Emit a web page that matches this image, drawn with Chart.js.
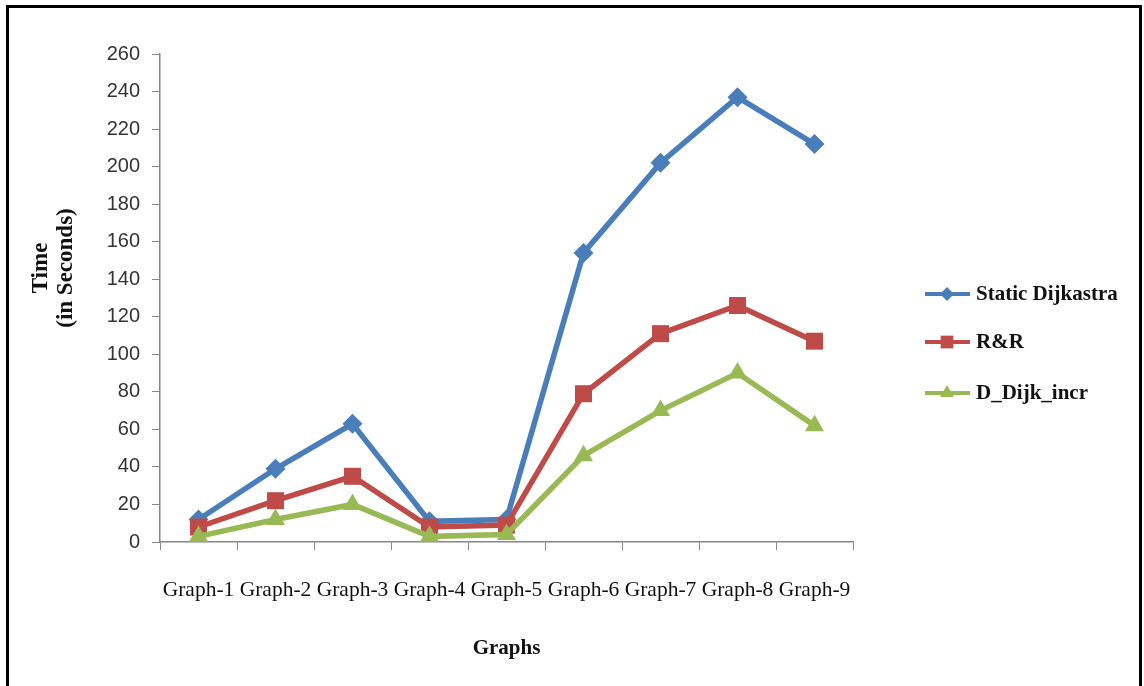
<!DOCTYPE html>
<html>
<head>
<meta charset="utf-8">
<title>Time per graph</title>
<script src="https://cdn.jsdelivr.net/npm/chart.js@4.4.0/dist/chart.umd.min.js"></script>
<style>
  html, body { margin: 0; padding: 0; background: #fff; overflow: hidden; }
  #wrap { position: relative; width: 1144px; height: 686px; }
  #frame {
    position: absolute; left: 6px; top: 5px; width: 1136px; height: 720px;
    border: 3px solid #000; box-sizing: border-box; pointer-events: none;
  }
</style>
</head>
<body>
<div id="wrap">
  <canvas id="timeChart" width="1144" height="686"></canvas>
  <div id="frame"></div>
</div>
<script>
// Данные: время работы (сек) для каждого графа
const graphLabels = ['Graph-1', 'Graph-2', 'Graph-3', 'Graph-4', 'Graph-5', 'Graph-6', 'Graph-7', 'Graph-8', 'Graph-9'];
const staticDijkstra = [12, 39, 63, 11, 12, 154, 202, 237, 212];
const rrTimes = [8, 22, 35, 8, 9, 79, 111, 126, 107];
const dDijkIncr = [3, 12, 20, 3, 4, 46, 70, 90, 62];

const seriesNames = ['Static Dijkastra', 'R&R', 'D_Dijk_incr'];
const seriesColors = ['#4A7EBB', '#BE4B48', '#98B954'];
const seriesPoints = ['rectRot', 'rect', 'triangle'];
const seriesRadius = [10, 12, 11];
const yTitleLines = ['Time', '(in Seconds)'];

const SERIF = "'Liberation Serif', 'Times New Roman', serif";
const SANS = "'Liberation Sans', Arial, sans-serif";

// Подпись оси Y (две строки, повернуты) — рисуем сами, чтобы сдвинуть выше центра
const yAxisTitle = {
    id: 'yAxisTitle',
    afterDraw(chart) {
        const ctx = chart.ctx;
        ctx.save();
        ctx.fillStyle = '#111';
        ctx.font = 'bold 23px ' + SERIF;
        ctx.textAlign = 'center';
        ctx.textBaseline = 'middle';
        ctx.translate(0, 268);
        ctx.rotate(-Math.PI / 2);
        ctx.fillText(yTitleLines[0], 0, 41);
        ctx.fillText(yTitleLines[1], 0, 66);
        ctx.restore();
    }
};

// Легенда рисуется вручную: линия + маркер, как в Excel
const lineLegend = {
    id: 'lineLegend',
    afterDraw(chart) {
        const ctx = chart.ctx;
        const ys = [294, 342, 393];
        ctx.save();
        seriesNames.forEach((name, i) => {
            const y = ys[i];
            ctx.strokeStyle = seriesColors[i];
            ctx.lineWidth = 4;
            ctx.beginPath();
            ctx.moveTo(925, y);
            ctx.lineTo(970, y);
            ctx.stroke();
            ctx.fillStyle = seriesColors[i];
            Chart.helpers.drawPoint(ctx, {
                pointStyle: seriesPoints[i],
                radius: seriesRadius[i] - 3,
                rotation: 0,
                borderWidth: 0
            }, 947, y);
            ctx.fillStyle = '#111';
            ctx.font = 'bold 21px ' + SERIF;
            ctx.textAlign = 'left';
            ctx.textBaseline = 'middle';
            ctx.fillText(name, 976, y + 1);
        });
        ctx.restore();
    }
};

function makeDataset(idx, values, order) {
    return {
        label: seriesNames[idx],
        data: values,
        borderColor: seriesColors[idx],
        backgroundColor: seriesColors[idx],
        borderWidth: 5.5,
        pointStyle: seriesPoints[idx],
        pointRadius: seriesRadius[idx],
        pointBorderWidth: 0,
        tension: 0,
        order: order
    };
}

new Chart(document.getElementById('timeChart'), {
    type: 'line',
    data: {
        labels: graphLabels,
        datasets: [
            makeDataset(0, staticDijkstra, 2),
            makeDataset(1, rrTimes, 1),
            makeDataset(2, dDijkIncr, 0)
        ]
    },
    options: {
        responsive: false,
        animation: false,
        layout: {
            padding: { left: 0, top: 54, right: 291, bottom: 0 }
        },
        plugins: {
            legend: { display: false },
            tooltip: { enabled: false }
        },
        scales: {
            x: {
                offset: true,
                grid: {
                    offset: true,
                    drawOnChartArea: false,
                    tickLength: 8,
                    color: '#868686'
                },
                border: { color: '#868686', width: 1.5 },
                ticks: {
                    padding: 27,
                    maxRotation: 0,
                    autoSkip: false,
                    color: '#111',
                    font: { family: SERIF, size: 21.5 }
                },
                title: {
                    display: true,
                    text: 'Graphs',
                    color: '#111',
                    font: { family: SERIF, size: 21, weight: 'bold' },
                    padding: { top: 0, bottom: 25 }
                },
                afterFit(scale) { scale.height = 144; }
            },
            y: {
                min: 0,
                max: 260,
                grid: {
                    drawOnChartArea: false,
                    tickLength: 8,
                    color: '#868686'
                },
                border: { color: '#868686', width: 1.5 },
                ticks: {
                    stepSize: 20,
                    padding: 12,
                    color: '#333',
                    font: { family: SANS, size: 20 }
                },
                afterFit(scale) { scale.width = 160; }
            }
        }
    },
    plugins: [yAxisTitle, lineLegend]
});
</script>
</body>
</html>
